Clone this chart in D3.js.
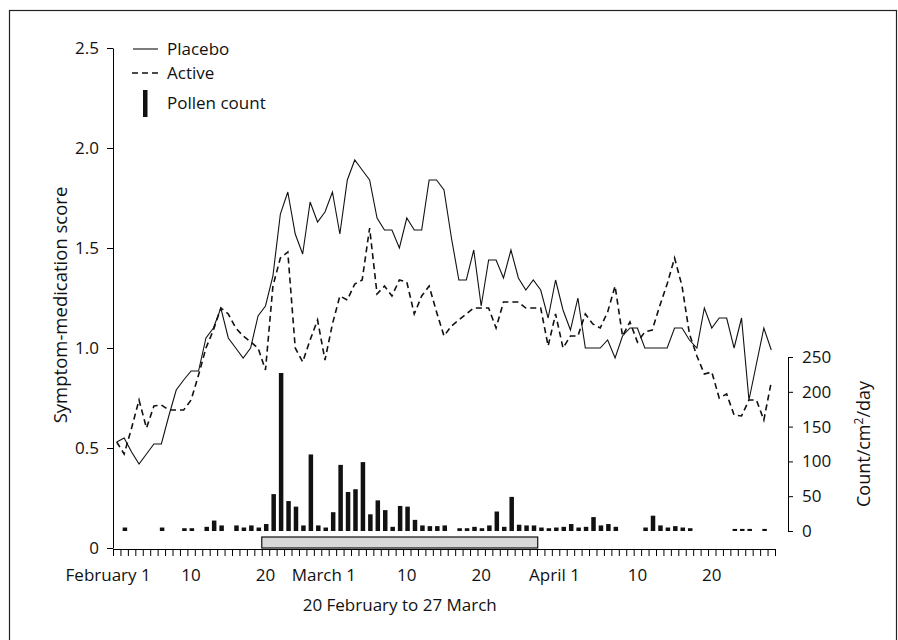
<!DOCTYPE html>
<html>
<head>
<meta charset="utf-8">
<script src="https://cdn.jsdelivr.net/npm/d3@7"></script>
<style>
  body { margin: 0; background: #fff; }
  text { font-family: "Open Sans", sans-serif; fill: #111; }
</style>
</head>
<body>
<svg id="chart" width="898" height="640"></svg>
<script>
  // day 0 = 31 January, day 88 = 28 April (one value per day)
  const placebo = [
    0.53, 0.55, 0.48, 0.42, 0.47, 0.52, 0.52, 0.66, 0.79, 0.84,
    0.885, 0.885, 1.05, 1.10, 1.20, 1.05, 1.00, 0.95, 1.00, 1.16,
    1.21, 1.36, 1.67, 1.78, 1.57, 1.47, 1.73, 1.63, 1.68, 1.78,
    1.57, 1.84, 1.94, 1.89, 1.84, 1.65, 1.59, 1.59, 1.50, 1.65,
    1.59, 1.59, 1.84, 1.84, 1.79, 1.55, 1.34, 1.34, 1.49, 1.21,
    1.44, 1.44, 1.35, 1.49, 1.35, 1.29, 1.34, 1.29, 1.15, 1.34,
    1.19, 1.09, 1.25, 1.00, 1.00, 1.00, 1.04, 0.95, 1.06, 1.10,
    1.10, 1.00, 1.00, 1.00, 1.00, 1.10, 1.10, 1.04, 1.00, 1.20,
    1.10, 1.15, 1.15, 1.00, 1.15, 0.74, 0.92, 1.10, 0.99
  ]
  const active = [
    0.53, 0.47, 0.60, 0.74, 0.60, 0.71, 0.715, 0.69, 0.69, 0.69,
    0.74, 0.865, 1.00, 1.09, 1.20, 1.17, 1.10, 1.06, 1.03, 1.00,
    0.89, 1.31, 1.45, 1.48, 1.00, 0.93, 1.04, 1.14, 0.94, 1.12,
    1.26, 1.24, 1.32, 1.34, 1.60, 1.27, 1.31, 1.26, 1.34, 1.33,
    1.17, 1.26, 1.31, 1.18, 1.06, 1.11, 1.14, 1.17, 1.20, 1.20,
    1.20, 1.10, 1.23, 1.23, 1.23, 1.20, 1.20, 1.20, 1.01, 1.17,
    1.00, 1.06, 1.06, 1.17, 1.12, 1.10, 1.18, 1.31, 1.06, 1.13,
    1.03, 1.08, 1.09, 1.21, 1.32, 1.45, 1.31, 1.07, 0.96, 0.87,
    0.88, 0.75, 0.77, 0.665, 0.66, 0.74, 0.74, 0.64, 0.83
  ]
  const pollen = [
    0, 5, 0, 0, 0, 0, 5, 0, 0, 4,
    4, 0, 6, 15, 8, 0, 8, 5, 8, 5,
    10, 53, 227, 43, 35, 8, 110, 8, 5, 27,
    95, 56, 60, 99, 24, 44, 30, 6, 36, 35,
    16, 8, 7, 7, 8, 0, 4, 4, 6, 4,
    8, 28, 6, 49, 9, 8, 8, 5, 4, 5,
    6, 10, 5, 6, 20, 8, 10, 6, 0, 0,
    0, 5, 22, 8, 5, 7, 5, 4, 0, 0,
    0, 0, 0, 3, 3, 3, 0, 3, 0
  ]
  const scoreTicks = [0, 0.5, 1.0, 1.5, 2.0, 2.5]
  const countTicks = [0, 50, 100, 150, 200, 250]
  const dayLabels = [
    { day: 1, text: 'February 1', month: true },
    { day: 10, text: '10' },
    { day: 20, text: '20' },
    { day: 30, text: 'March 1', month: true },
    { day: 39, text: '10' },
    { day: 49, text: '20' },
    { day: 61, text: 'April 1', month: true },
    { day: 70, text: '10' },
    { day: 80, text: '20' }
  ]
  const treatment = { start: 20, end: 56, label: '20 February to 27 March' }

  const svg = d3.select('#chart')
  const x = d3.scaleLinear().domain([-0.5, 88.5]).range([113, 775])
  const yScore = d3.scaleLinear().domain([0, 2.5]).range([548, 48])
  const yCount = d3.scaleLinear().domain([0, 250]).range([531, 357])

  // frame round the figure
  svg.append('rect')
    .attr('x', 9.5).attr('y', 10.5).attr('width', 887).attr('height', 660)
    .attr('fill', 'none').attr('stroke', '#222').attr('stroke-width', 1.2)

  // left axis
  const left = svg.append('g')
    .attr('transform', 'translate(113,0)')
    .call(d3.axisLeft(yScore).tickValues(scoreTicks)
      .tickFormat(d => d === 0 ? '0' : d3.format('.1f')(d))
      .tickSize(6).tickSizeOuter(0).tickPadding(8))
  left.selectAll('text').style('font-size', '17px')

  // right axis
  const right = svg.append('g')
    .attr('transform', 'translate(788,0)')
    .call(d3.axisRight(yCount).tickValues(countTicks)
      .tickSize(5).tickSizeOuter(5).tickPadding(9))
  right.selectAll('text').style('font-size', '17px')

  // bottom axis: one tick per day
  svg.append('g')
    .attr('transform', 'translate(0,549)')
    .call(d3.axisBottom(x).tickValues(d3.range(-0.5, 89, 1))
      .tickFormat('').tickSize(7).tickSizeOuter(0))

  svg.selectAll('.day-label').data(dayLabels).enter()
    .append('text')
      .attr('class', 'day-label')
      .attr('x', d => x(d.day) + (d.month ? -16 : 0))
      .attr('y', 581)
      .attr('text-anchor', 'middle')
      .style('font-size', '17px')
      .text(d => d.text)

  // treatment period bar
  const x0 = x(treatment.start - 0.5)
  const x1 = x(treatment.end + 0.6)
  svg.append('rect')
    .attr('x', x0).attr('y', 537)
    .attr('width', x1 - x0).attr('height', 11)
    .attr('fill', '#d8d8d8').attr('stroke', '#111').attr('stroke-width', 1.2)
  svg.append('text')
    .attr('x', (x0 + x1) / 2)
    .attr('y', 611)
    .attr('text-anchor', 'middle')
    .style('font-size', '17px')
    .text(treatment.label)

  // pollen bars (days with no count are left empty)
  svg.append('g').selectAll('rect')
    .data(pollen.map((v, i) => ({ day: i, v })).filter(d => d.v > 0))
    .enter().append('rect')
      .attr('x', d => x(d.day) - 1.5)
      .attr('width', 4.5)
      .attr('y', d => yCount(d.v))
      .attr('height', d => yCount(0) - yCount(d.v))
      .attr('fill', '#111')

  // score lines
  const line = d3.line().x((d, i) => x(i)).y(d => yScore(d))
  svg.append('path').datum(placebo)
    .attr('d', line).attr('fill', 'none')
    .attr('stroke', '#111').attr('stroke-width', 1.1)
  svg.append('path').datum(active)
    .attr('d', line).attr('fill', 'none')
    .attr('stroke', '#111').attr('stroke-width', 1.6)
    .attr('stroke-dasharray', '6,4')

  // axis titles
  svg.append('text')
    .attr('transform', 'translate(67,305) rotate(-90)')
    .attr('text-anchor', 'middle')
    .style('font-size', '18.5px')
    .text('Symptom-medication score')
  const rt = svg.append('text')
    .attr('transform', 'translate(870,444) rotate(-90)')
    .attr('text-anchor', 'middle')
    .style('font-size', '18px')
  rt.append('tspan').text('Count/cm')
  rt.append('tspan').attr('dy', -7).style('font-size', '12px').text('2')
  rt.append('tspan').attr('dy', 7).text('/day')

  // legend
  const legend = svg.append('g')
  legend.append('line').attr('x1', 133).attr('x2', 158).attr('y1', 49).attr('y2', 49)
    .attr('stroke', '#111').attr('stroke-width', 1.1)
  legend.append('line').attr('x1', 132).attr('x2', 160).attr('y1', 73).attr('y2', 73)
    .attr('stroke', '#111').attr('stroke-width', 1.6).attr('stroke-dasharray', '6,4')
  legend.append('rect').attr('x', 143).attr('y', 90).attr('width', 4.5).attr('height', 27)
    .attr('fill', '#111')
  legend.selectAll('.lt').data([['Placebo', 49], ['Active', 73], ['Pollen count', 103]])
    .enter().append('text')
      .attr('x', 167).attr('y', d => d[1]).attr('dy', '0.35em')
      .style('font-size', '17px')
      .text(d => d[0])
</script>
</body>
</html>
